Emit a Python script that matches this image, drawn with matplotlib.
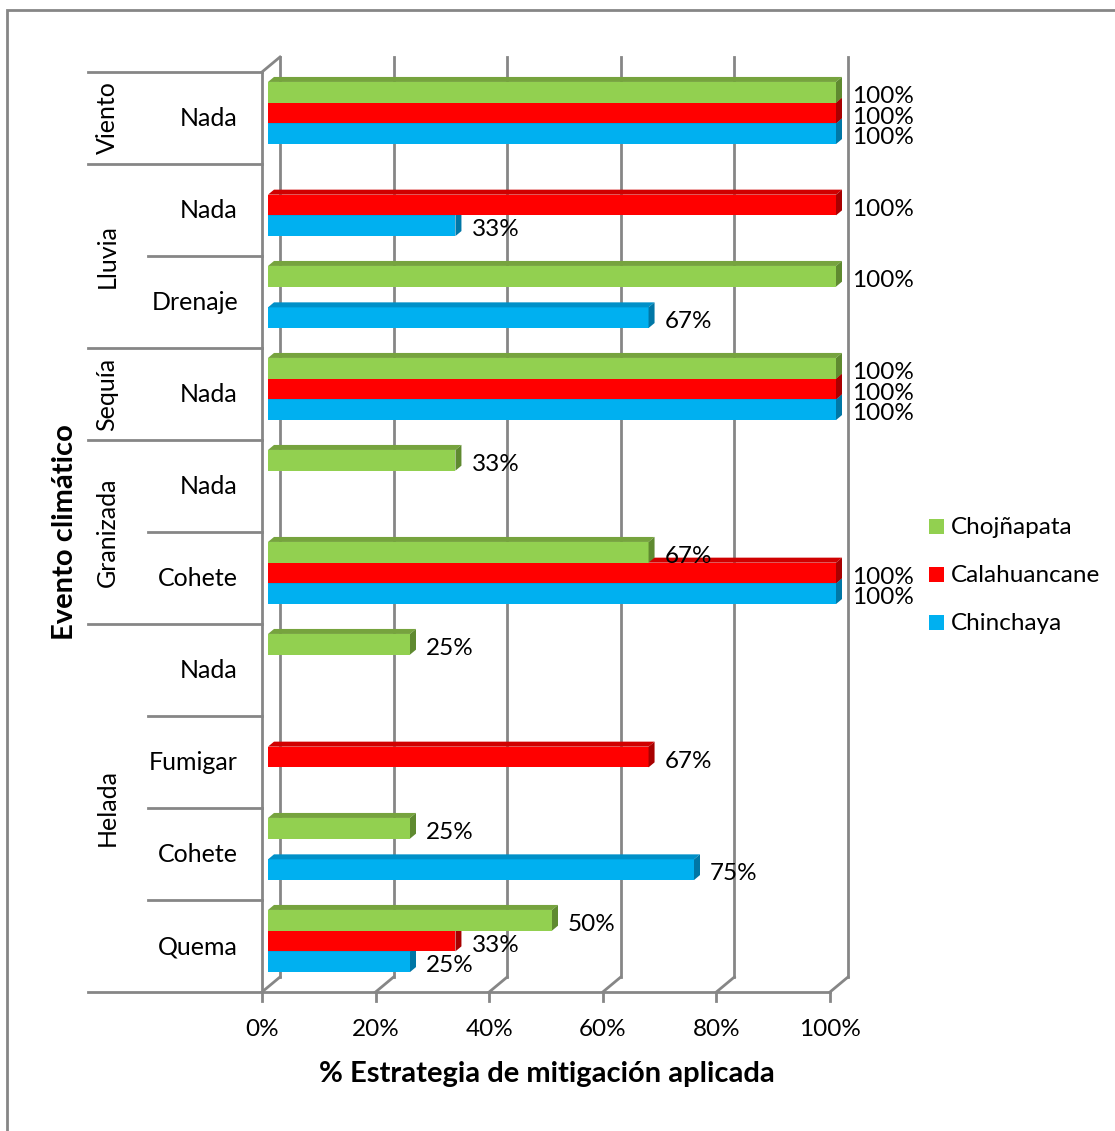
import numpy as np
import matplotlib.pyplot as plt
from matplotlib.patches import Polygon, Rectangle
from matplotlib.lines import Line2D
from matplotlib.transforms import IdentityTransform

plt.rcParams['font.family'] = ['Lato', 'DejaVu Sans']

# climate events (outer level) and strategy (inner level), bottom to top
events = ["Helada", "Helada", "Helada", "Helada", "Granizada", "Granizada",
          "Sequía", "Lluvia", "Lluvia", "Viento"]
strategies = ["Quema", "Cohete", "Fumigar", "Nada", "Cohete", "Nada",
              "Nada", "Drenaje", "Nada", "Nada"]

# % of mitigation strategy applied per community (0 = not reported)
chinchaya = [25, 75, 0, 0, 100, 0, 100, 67, 33, 100]
calahuancane = [33, 0, 67, 0, 100, 0, 100, 0, 100, 100]
chojnapata = [50, 25, 0, 25, 67, 33, 100, 100, 0, 100]

series = [("Chinchaya", chinchaya), ("Calahuancane", calahuancane), ("Chojñapata", chojnapata)]
face = {"Chinchaya": "#00B0F0", "Calahuancane": "#FF0000", "Chojñapata": "#92D050"}
top_c = {"Chinchaya": "#0090C8", "Calahuancane": "#D00000", "Chojñapata": "#76A33E"}
side_c = {"Chinchaya": "#0077A6", "Calahuancane": "#A80000", "Chojñapata": "#5F8A30"}

W, H = 1115, 1131
fig = plt.figure(figsize=(W / 100, H / 100), dpi=100)
ax = fig.add_axes([268 / W, 1 - 987 / H, 568 / W, 920 / H])
ax.set_xlim(0, 100)
ax.set_ylim(-0.5, len(strategies) - 0.5)
ax.axis("off")

# depth step of the 3-D look, display pixels (x right, y up)
DX, DY = 6, 5
GRAY = "#868686"
FS = 17.5
FS_CAT = 18
FS_TITLE = 21


def pt(x, y, depth=0):
    px, py = ax.transData.transform((x, y))
    return (px + depth * DX, py + depth * DY)


def line(p, q, **kw):
    ax.add_line(Line2D([p[0], q[0]], [p[1], q[1]], transform=IdentityTransform(),
                       color=GRAY, lw=kw.pop("lw", 2), clip_on=False, **kw))


def poly(pts, color, z):
    ax.add_patch(Polygon(pts, closed=True, transform=IdentityTransform(), fc=color,
                         ec="none", clip_on=False, zorder=z))


n = len(strategies)
ylo, yhi = -0.5, n - 0.5
ticks = [0, 20, 40, 60, 80, 100]

# back wall gridlines and floor
for t in ticks:
    line(pt(t, ylo, 2), pt(t, yhi, 2), zorder=1)
    line(pt(t, ylo, -1), pt(t, ylo, 2), zorder=1)
    b = pt(t, ylo, -1)
    line(b, (b[0], b[1] - 9), zorder=1)
line(pt(0, yhi, -1), pt(0, yhi, 2), zorder=1)
line(pt(0, ylo, -1), pt(0, yhi, -1), zorder=1)
line(pt(0, ylo, -1), pt(100, ylo, -1), zorder=1)

# multi-level category axis on the left
x0 = pt(0, 0, -1)[0]
for i in range(n + 1):
    yb = i - 0.5
    outer = i == 0 or i == n or events[i] != events[i - 1]
    p = pt(0, yb, -1)
    line((p[0] - (174 if outer else 114), p[1]), p, zorder=1)

for i, s in enumerate(strategies):
    p = pt(0, i, -1)
    ax.text(p[0] - 24, p[1] - 1, s, transform=IdentityTransform(), ha="right", va="center",
            fontsize=FS_CAT)

start = 0
for i in range(1, n + 1):
    if i == n or events[i] != events[start]:
        p = pt(0, (start + i - 1) / 2, -1)
        ax.text(x0 - 155, p[1], events[start], transform=IdentityTransform(), rotation=90,
                ha="center", va="center", fontsize=FS_CAT)
        start = i

for t in ticks:
    p = pt(t, ylo, -1)
    ax.text(p[0], p[1] - 37, f"{t}%", transform=IdentityTransform(), ha="center",
            va="center", fontsize=FS)

# bars with top and side faces, lower slot first so upper bars cover top faces
bw = 0.225
y = np.arange(n)
for i in range(n):
    for k, (name, vals) in enumerate(series):
        v = vals[i]
        if v == 0:
            continue
        yc = y[i] + (k - 1) * bw
        yb, yt = yc - bw / 2, yc + bw / 2
        z = 3 + i * 0.1 + k * 0.01
        ax.barh(yc, v, height=bw, left=0, color=face[name], zorder=z)
        poly([pt(0, yt), pt(v, yt), pt(v, yt, 1), pt(0, yt, 1)], top_c[name], z)
        poly([pt(v, yb), pt(v, yt), pt(v, yt, 1), pt(v, yb, 1)], side_c[name], z)
        p = pt(v, yc)
        ax.text(p[0] + 16, p[1] - 4, f"{v}%", transform=IdentityTransform(), ha="left",
                va="center", fontsize=FS, zorder=10)

# legend
for j, (name, _) in enumerate(reversed(series)):
    yy = H - (527 + 48 * j)
    fig.add_artist(Rectangle((929 / W, (yy - 7) / H), 15 / W, 15 / H, transform=fig.transFigure,
                             fc=face[name], ec="none"))
    fig.text(951 / W, yy / H, name, ha="left", va="center", fontsize=FS)

fig.text(65 / W, 1 - 532 / H, "Evento climático", rotation=90, ha="center", va="center",
         fontsize=FS_TITLE, fontweight="bold")
fig.text(547 / W, 1 - 1074 / H, "% Estrategia de mitigación aplicada", ha="center",
         va="center", fontsize=FS_TITLE, fontweight="bold")

fig.add_artist(Rectangle((7 / W, -0.1), 2, 1 - 10 / H + 0.1, transform=fig.transFigure,
                         fill=False, ec=GRAY, lw=2))

fig.savefig("out.png", dpi=100)
